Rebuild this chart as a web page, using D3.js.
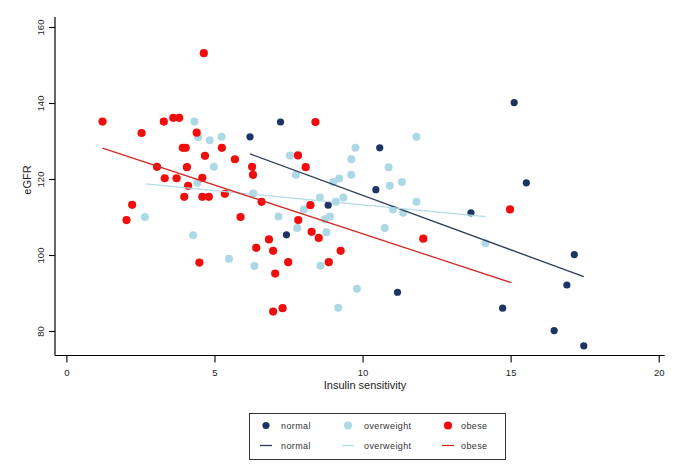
<!DOCTYPE html>
<html><head><meta charset="utf-8">
<script src="https://cdn.jsdelivr.net/npm/d3@7"></script>
<style>body{margin:0;background:#fff}svg{display:block}text{font-family:"Liberation Sans",Arial,sans-serif}</style>
</head><body>
<svg id="c" width="685" height="472"></svg>
<script>
const normalX=[6.2,7.23,10.58,10.45,8.84,7.43,11.18,13.66,15.12,15.53,17.15,16.9,14.73,16.47,17.47];
const normalY=[131.1,135,128.2,117.2,113.1,105.3,90.2,111.1,140.1,119.0,100.1,92.1,86.0,80.1,76.1];
const overweightX=[2.65,4.28,4.32,4.45,4.84,5.24,4.98,4.42,6.31,5.49,6.35,7.16,7.55,9.76,11.82,9.62,10.88,7.75,9.21,9.01,9.62,11.33,10.92,8.56,9.35,9.10,11.82,8.02,11.03,11.37,8.9,8.73,7.79,10.75,8.78,8.58,9.81,9.18,14.15];
const overweightY=[110,105.2,135.1,131,130.2,131.1,123.2,119.0,116.2,99.0,97.1,110.1,126.2,128.2,131.1,125.2,123.1,121.1,120.1,119.2,121.1,119.2,118.2,115.1,115.1,114.0,114.0,112.0,112.0,111.1,110.1,109.4,107.1,107.1,106,97.2,91.1,86.1,103.1];
const obeseX=[4.64,1.22,2.54,3.29,3.61,3.81,4.40,3.93,4.03,5.25,4.68,5.69,3.06,4.07,6.27,6.30,3.32,3.72,4.59,4.11,5.35,3.98,4.59,4.81,2.03,2.22,5.88,6.59,6.84,6.41,6.98,4.49,7.05,6.98,7.30,8.41,7.82,8.08,8.24,7.83,8.28,8.52,12.05,9.26,7.49,8.86,14.98];
const obeseY=[153.1,135.1,132.1,135.1,136.1,136.1,132.2,128.2,128.2,128.2,126.1,125.2,123.2,123.1,123.2,121.1,120.2,120.2,120.3,118.2,116.1,115.3,115.3,115.3,109.2,113.2,110,114.0,104.1,101.9,101.1,98.0,95.1,85.1,86.0,135,126.2,123.1,113.1,109.2,106.1,104.5,104.3,101.1,98.1,98.1,112.0];
// fitted line endpoints
const normalFitX=[6.2,17.47], normalFitY=[126.6,94.3];
const overweightFitX=[2.68,14.15], overweightFitY=[118.7,110.1];
const obeseFitX=[1.22,15.03], obeseFitY=[128.1,92.7];
const xTicks=[0,5,10,15,20];
const yTicks=[80,100,120,140,160];
const groups=["normal","overweight","obese"];

const ptColor={normal:"#1b3464",overweight:"#add8e6",obese:"#f20d0d"};
const lnColor={normal:"#2d3b58",overweight:"#b3dbe8",obese:"#d42a2a"};
const ptR={normal:3.6,overweight:4,obese:4.1};

const svg=d3.select("#c");
const x=d3.scaleLinear().domain([0,20]).range([66.4,658.7]);
const y=d3.scaleLinear().domain([80,160]).range([331,27]);
const axisY=355.5, axisX=55;

svg.append("line").attr("x1",axisX).attr("x2",axisX).attr("y1",y(162.6)).attr("y2",axisY).attr("stroke","#000").attr("stroke-width",1.2);
svg.append("line").attr("x1",axisX).attr("x2",x(20.2)).attr("y1",axisY).attr("y2",axisY).attr("stroke","#000").attr("stroke-width",1.2);

const gx=svg.append("g").attr("transform",`translate(0,${axisY})`).call(d3.axisBottom(x).tickValues(xTicks).tickSize(7).tickSizeOuter(0));
gx.select(".domain").remove();
gx.selectAll("line").attr("stroke","#000").attr("stroke-width",1.1);
gx.selectAll("text").attr("y",0).attr("dy",0).attr("transform","translate(0,20)").style("font-size","9.5px").attr("fill","#222").style("font-family","Liberation Sans, Arial, sans-serif");

const gy=svg.append("g").attr("transform",`translate(${axisX},0)`).call(d3.axisLeft(y).tickValues(yTicks).tickSize(6).tickSizeOuter(0));
gy.select(".domain").remove();
gy.selectAll("line").attr("stroke","#000").attr("stroke-width",1.1);
gy.selectAll("text").attr("x",0).attr("y",-11).attr("dy",0).attr("transform","rotate(-90)").style("text-anchor","middle").style("font-size","9.5px").attr("fill","#222").style("font-family","Liberation Sans, Arial, sans-serif");

svg.append("text").attr("x",365).attr("y",389).attr("text-anchor","middle").style("font-size","11px").attr("fill","#222").text("Insulin sensitivity");
svg.append("text").attr("transform","translate(31,180) rotate(-90)").attr("text-anchor","middle").style("font-size","11px").attr("fill","#222").text("eGFR");

const pts={normal:[normalX,normalY],overweight:[overweightX,overweightY],obese:[obeseX,obeseY]};
groups.forEach(g=>{
  const [xs,ys]=pts[g];
  svg.append("g").selectAll("circle").data(xs.map((v,i)=>[v,ys[i]])).join("circle")
    .attr("cx",d=>x(d[0])).attr("cy",d=>y(d[1])).attr("r",ptR[g]).attr("fill",ptColor[g]);
});
const fits={normal:[normalFitX,normalFitY],overweight:[overweightFitX,overweightFitY],obese:[obeseFitX,obeseFitY]};
const line=d3.line().x(d=>x(d[0])).y(d=>y(d[1]));
groups.forEach(g=>{
  const [xs,ys]=fits[g];
  svg.append("path").attr("d",line(xs.map((v,i)=>[v,ys[i]]))).attr("fill","none").attr("stroke",lnColor[g]).attr("stroke-width",1.3);
});

// legend
svg.append("rect").attr("x",249.5).attr("y",413.5).attr("width",256).attr("height",46).attr("fill","#fff").attr("stroke","#333").attr("stroke-width",1);
const legX={normal:266,overweight:348,obese:448};
const legT={normal:281,overweight:364,obese:461};
groups.forEach(g=>{
  svg.append("circle").attr("cx",legX[g]).attr("cy",425.5).attr("r",ptR[g]).attr("fill",ptColor[g]);
  svg.append("text").attr("x",legT[g]).attr("y",428.5).style("font-size","9px").style("letter-spacing","0.4px").attr("fill","#333").text(g);
  svg.append("line").attr("x1",legX[g]-6).attr("x2",legX[g]+6).attr("y1",445.5).attr("y2",445.5).attr("stroke",lnColor[g]).attr("stroke-width",1.3);
  svg.append("text").attr("x",legT[g]).attr("y",448.5).style("font-size","9px").style("letter-spacing","0.4px").attr("fill","#333").text(g);
});
</script>
</body></html>
